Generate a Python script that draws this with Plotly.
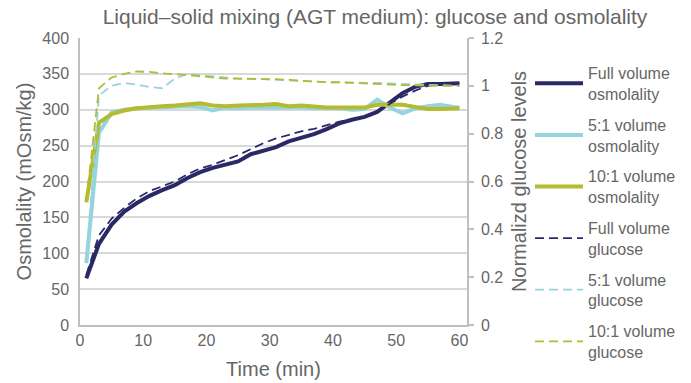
import plotly.graph_objects as go

# Sampling times (min)
time_min = [1, 3, 5, 7, 9, 11, 13, 15, 17, 19, 21, 23, 25, 27, 29, 31, 33, 35, 37, 39,
            41, 43, 45, 47, 49, 51, 53, 55, 57, 59, 60]

# Osmolality (mOsm/kg)
full_osm = [65, 113, 140, 158, 170, 180, 188, 195, 205, 213, 219, 224, 228, 238, 243, 248,
            256, 261, 266, 273, 281, 286, 290, 297, 310, 323, 332, 336, 336, 337, 337]
five_osm = [86, 268, 296, 300, 302, 303, 304, 305, 305, 304, 299, 303, 302, 303, 303, 304,
            303, 303, 302, 302, 302, 300, 301, 314, 303, 295, 302, 305, 307, 304, 303]
ten_osm = [171, 282, 294, 299, 302, 304, 305, 306, 307, 309, 306, 305, 306, 306, 307, 308,
           305, 306, 304, 303, 303, 303, 303, 307, 307, 307, 304, 301, 301, 302, 302]

# Normalized glucose levels
full_glu = [0.21, 0.375, 0.445, 0.49, 0.53, 0.56, 0.58, 0.60, 0.63, 0.655, 0.67, 0.69, 0.71,
            0.735, 0.76, 0.78, 0.795, 0.81, 0.82, 0.835, 0.85, 0.86, 0.87, 0.895, 0.925,
            0.955, 0.98, 1.0, 1.005, 1.008, 1.01]
five_glu = [0.27, 0.96, 1.0, 1.012, 1.005, 0.995, 0.99, 1.03, 1.05, 1.045, 1.04, 1.035, 1.03,
            1.03, 1.028, 1.025, 1.025, 1.02, 1.018, 1.015, 1.015, 1.013, 1.012, 1.012, 1.01,
            1.008, 1.005, 1.003, 1.003, 1.002, 1.0]
ten_glu = [0.52, 0.99, 1.035, 1.05, 1.06, 1.058, 1.052, 1.05, 1.045, 1.04, 1.035, 1.03, 1.03,
           1.028, 1.028, 1.028, 1.025, 1.02, 1.018, 1.015, 1.015, 1.012, 1.01, 1.008, 1.005,
           1.003, 1.002, 1.0, 1.0, 1.0, 1.0]

names = ["Full volume<br>osmolality", "5:1 volume<br>osmolality", "10:1 volume<br>osmolality",
         "Full volume<br>glucose", "5:1 volume<br>glucose", "10:1 volume<br>glucose"]

NAVY = "#2a2866"
BLUE = "#95d4df"
GREEN = "#b4bb2f"
GRID = "#d9d9d9"
AXIS = "#bfbfbf"
TXT = "#666666"
FONT = "Liberation Sans, Arial, sans-serif"

fig = go.Figure()

solid = [(full_osm, NAVY), (five_osm, BLUE), (ten_osm, GREEN)]
dashed = [(full_glu, NAVY), (five_glu, BLUE), (ten_glu, GREEN)]

for i, (vals, col) in enumerate(solid):
    fig.add_trace(go.Scatter(x=time_min, y=vals, mode="lines", name=names[i],
                             legendgroup=f"g{i}",
                             line=dict(color=col, width=4)))
for i, (vals, col) in enumerate(dashed):
    fig.add_trace(go.Scatter(x=time_min, y=vals, mode="lines", name=names[i + 3],
                             legendgroup=f"g{i+3}", yaxis="y2",
                             line=dict(color=col, width=1.8, dash="9px,5px")))

fig.update_layout(
    width=691, height=383,
    margin=dict(l=80, r=224, t=38, b=58, autoexpand=False),
    paper_bgcolor="white", plot_bgcolor="white",
    font=dict(family=FONT, color=TXT, size=16),
    title=dict(text="Liquid\u2013solid mixing (AGT medium): glucose and osmolality",
               x=375 / 691, xanchor="center", xref="container",
               y=1 - 17 / 383, yanchor="middle", yref="container",
               font=dict(size=21, color=TXT, family=FONT)),
    xaxis=dict(range=[0, 61.2], tick0=0, dtick=10, showgrid=False, zeroline=False,
               showline=True, linecolor=AXIS, linewidth=1.5, ticks="",
               tickfont=dict(size=16, color=TXT),
               title=dict(text="Time (min)", font=dict(size=20, color=TXT), standoff=14)),
    yaxis=dict(range=[0, 400], tick0=0, dtick=50, showgrid=True, gridcolor=GRID,
               gridwidth=1.5, zeroline=False, showline=True, linecolor=AXIS,
               linewidth=1.5, ticks="", ticklabelstandoff=6,
               tickfont=dict(size=16, color=TXT),
               title=dict(text="Osmolality (mOsm/kg)", font=dict(size=20, color=TXT),
                          standoff=5)),
    yaxis2=dict(range=[0, 1.2], tick0=0, dtick=0.2, overlaying="y", side="right",
                showgrid=False, zeroline=False, showline=True, linecolor=AXIS,
                linewidth=1.5, ticks="outside", ticklen=5, tickcolor=AXIS,
                tickwidth=1.5, ticklabelstandoff=4, tickfont=dict(size=16, color=TXT),
                title=dict(text="Normalizd glucose levels", font=dict(size=20, color=TXT),
                           standoff=12)),
    legend=dict(xref="container", yref="container", x=530 / 691, xanchor="left",
                y=1 - 56 / 383, yanchor="top", font=dict(size=16, color=TXT),
                itemwidth=48, tracegroupgap=7, maxheight=340,
                bgcolor="rgba(0,0,0,0)"),
    showlegend=True,
)

fig.write_html("out.html")
